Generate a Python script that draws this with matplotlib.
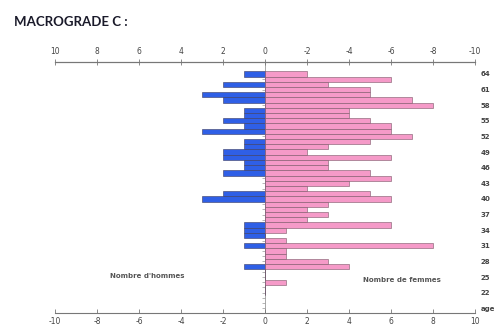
import numpy as np
import matplotlib
matplotlib.use("Agg")
import matplotlib.pyplot as plt

plt.rcParams["axes.unicode_minus"] = False

# Données : âges et effectifs par sexe
ages = np.arange(64, 21, -1)
hommes = [1, 0, 2, 0, 3, 2, 0, 1, 1, 2, 1, 3, 0, 1, 1, 2, 2, 1, 1, 2, 0, 0,
          0, 2, 3, 0, 0, 0, 0, 1, 1, 1, 0, 1, 0, 0, 0, 1, 0, 0, 0, 0, 0]
femmes = [2, 6, 3, 5, 5, 7, 8, 4, 4, 5, 6, 6, 7, 5, 3, 2, 6, 3, 3, 5, 6, 4,
          2, 5, 6, 3, 2, 3, 2, 6, 1, 0, 1, 8, 1, 1, 3, 4, 0, 0, 1, 0, 0]
age_ticks = [64, 61, 58, 55, 52, 49, 46, 43, 40, 37, 34, 31, 28, 25, 22, 19]
age_labels = ["64", "61", "58", "55", "52", "49", "46", "43", "40", "37",
              "34", "31", "28", "25", "22", "age"]
x_ticks = [-10, -8, -6, -4, -2, 0, 2, 4, 6, 8, 10]

fig = plt.figure(figsize=(4.94, 3.27), dpi=100)
ax = fig.add_axes([55 / 494, 1 - 313 / 327, 420 / 494, 251 / 327])

# barres
ax.barh(ages, [-h for h in hommes], height=1.0, color="#2f5fe6",
        edgecolor="#3a3a60", linewidth=0.4, zorder=3)
ax.barh(ages, femmes, height=1.0, color="#f59ac8",
        edgecolor="#7a5566", linewidth=0.4, zorder=3)

# axe central avec petites graduations
ax.axvline(0, color="#999999", lw=0.6, zorder=1)
ax.hlines(np.arange(19, 65), -0.15, 0, color="#999999", lw=0.5, zorder=1)

ax.set_xlim(-10, 10)
ax.set_ylim(18.1, 66.3)
for s in ["left", "right"]:
    ax.spines[s].set_visible(False)
for s in ["top", "bottom"]:
    ax.spines[s].set_color("#777777")
    ax.spines[s].set_linewidth(0.8)

ax.set_xticks(x_ticks)
ax.tick_params(axis="x", direction="in", length=3, width=0.6, colors="#777777",
               labelsize=5.5, labelcolor="#444444", pad=3)

ax.yaxis.tick_right()
ax.set_yticks(age_ticks)
ax.set_yticklabels(age_labels, fontsize=5, fontweight="bold", color="#444444")
ax.tick_params(axis="y", length=0, pad=4)

# axe du haut inversé
ax2 = ax.twiny()
ax2.set_xlim(10, -10)
ax2.set_xticks(x_ticks)
for s in ["left", "right", "bottom"]:
    ax2.spines[s].set_visible(False)
ax2.spines["top"].set_color("#777777")
ax2.spines["top"].set_linewidth(0.8)
ax2.tick_params(axis="x", direction="inout", length=4, width=0.6, colors="#777777",
                labelsize=5.5, labelcolor="#444444", pad=2)

ax.text(-5.6, 25.2, "Nombre d'hommes", fontsize=5, fontweight="bold",
        color="#555555", ha="center", va="center")
ax.text(6.5, 24.5, "Nombre de femmes", fontsize=5, fontweight="bold",
        color="#555555", ha="center", va="center")

fig.text(14 / 494, 1 - 22 / 327, "MACROGRADE C :", fontsize=9.5, family="Lato",
         fontweight="bold", color="#1a1a2a", ha="left", va="center")

fig.savefig("out.png", dpi=100)
